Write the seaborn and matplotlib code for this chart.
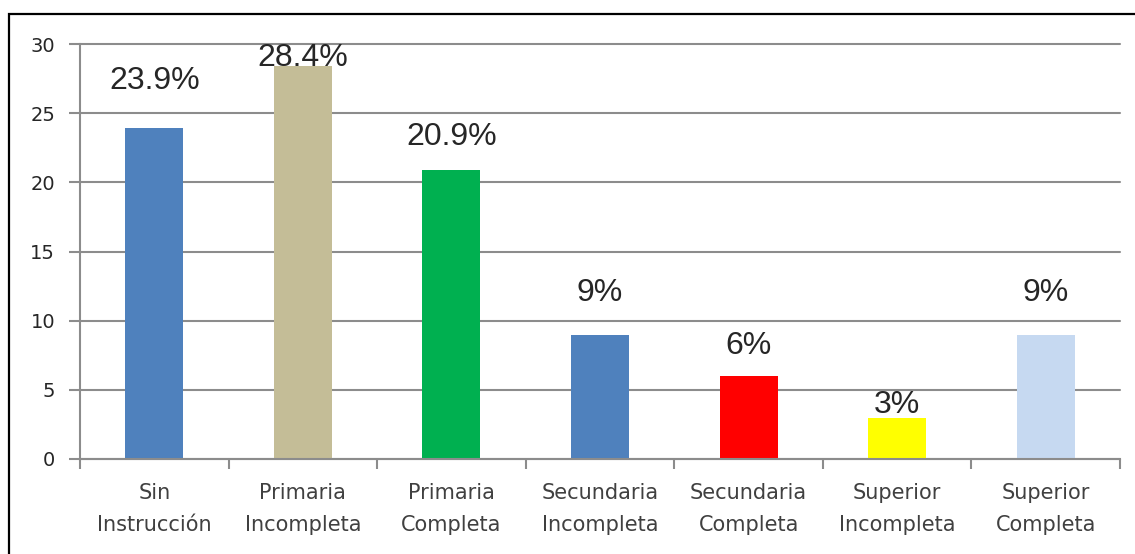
import pandas as pd
import seaborn as sns
import matplotlib.pyplot as plt
from matplotlib.patches import Rectangle

# Values
categories = ["Sin\nInstrucción", "Primaria\nIncompleta", "Primaria\nCompleta",
              "Secundaria\nIncompleta", "Secundaria\nCompleta", "Superior\nIncompleta",
              "Superior\nCompleta"]
values = [23.9, 28.4, 20.9, 9, 6, 3, 9]
value_labels = ["23.9%", "28.4%", "20.9%", "9%", "6%", "3%", "9%"]
label_heights = [27.3, 29.0, 23.3, 12.0, 8.2, 3.9, 12.0]
bar_colors = ["#4F81BD", "#C4BD97", "#00B050", "#4F81BD", "#FF0000", "#FFFF00", "#C6D9F1"]

df = pd.DataFrame({"cat": categories, "val": values})

sns.set_style("white")
plt.rcParams["font.family"] = ["DejaVu Sans"]

fig = plt.figure(figsize=(11.35, 5.54), dpi=100)
ax = fig.add_axes([80 / 1135, 95 / 554, 1040 / 1135, 415 / 554])

sns.barplot(data=df, x="cat", y="val", hue="cat", palette=bar_colors,
            width=0.39, legend=False, saturation=1, linewidth=0, ax=ax)

for i, (lab, h) in enumerate(zip(value_labels, label_heights)):
    ax.text(i, h, lab, ha="center", va="center", fontsize=23,
            family="Liberation Sans", color="#262626")

ax.set_ylim(0, 30)
ax.set_xlim(-0.5, len(categories) - 0.5)
ax.set_yticks(range(0, 31, 5))
ax.yaxis.grid(True, color="#8c8c8c", linewidth=1.5)
for gl in ax.get_ygridlines():
    gl.set_clip_on(False)
ax.set_axisbelow(True)
ax.set_xlabel("")
ax.set_ylabel("")

ax.set_xticks(range(len(categories)))
ax.set_xticklabels(categories, fontsize=15, color="#404040", linespacing=1.75)
ax.set_xticks([i - 0.5 for i in range(len(categories) + 1)], minor=True)
ax.tick_params(axis="x", which="major", bottom=False, pad=14)
ax.tick_params(axis="x", which="minor", bottom=True, length=7, width=1.5,
               color="#8c8c8c", direction="out")
ax.tick_params(axis="y", left=True, length=8, width=1.5, color="#8c8c8c", direction="out",
               labelsize=14, labelcolor="#262626", pad=10)

for s in ["top", "right"]:
    ax.spines[s].set_visible(False)
for s in ["left", "bottom"]:
    ax.spines[s].set_color("#8c8c8c")
    ax.spines[s].set_linewidth(1.5)

# chart area frame (cut off at right and bottom in the original)
fig.patches.append(Rectangle((9 / 1135, -0.2), 1.2, 1.2 - 14 / 554,
                             transform=fig.transFigure, fill=False,
                             edgecolor="black", linewidth=1.6))

fig.savefig("out.png", dpi=100)
